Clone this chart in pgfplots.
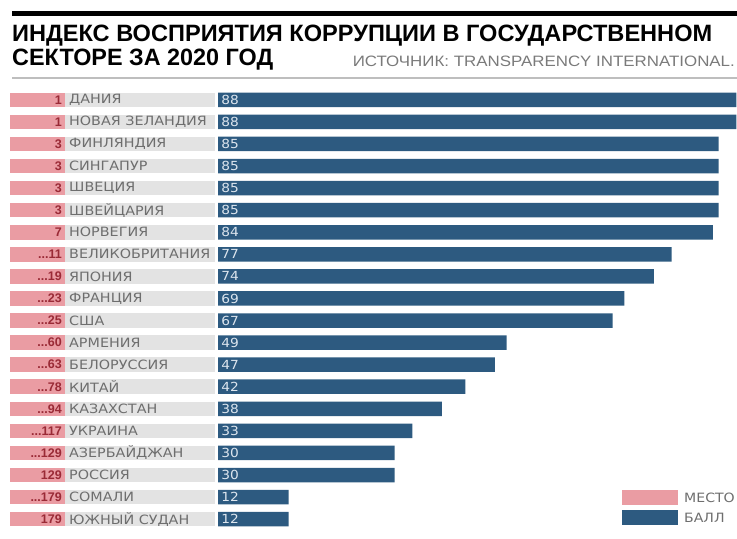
\documentclass[border=0pt]{standalone}
\usepackage{pgfplots}
\pgfplotsset{compat=1.18}
\usepackage{pgfplotstable}
\usepackage{graphicx}
\usepackage{fontspec}
\setmainfont{Liberation Sans}
\newfontfamily\dvs{DejaVu Sans}
\definecolor{barblue}{HTML}{2D5A80}
\definecolor{rankpink}{HTML}{EA9CA3}
\definecolor{bandgray}{HTML}{E3E3E3}
\definecolor{rankred}{HTML}{9A2A36}
\definecolor{namegray}{HTML}{6E6E6E}
\definecolor{vallabel}{HTML}{DCE5EE}
\definecolor{srcgray}{HTML}{7A7A7A}
\definecolor{rulegray}{HTML}{BEBEBE}

\pgfplotstableread[col sep=comma]{
idx,rank,country,val
0,1,ДАНИЯ,88
1,1,НОВАЯ ЗЕЛАНДИЯ,88
2,3,ФИНЛЯНДИЯ,85
3,3,СИНГАПУР,85
4,3,ШВЕЦИЯ,85
5,3,ШВЕЙЦАРИЯ,85
6,7,НОРВЕГИЯ,84
7,...11,ВЕЛИКОБРИТАНИЯ,77
8,...19,ЯПОНИЯ,74
9,...23,ФРАНЦИЯ,69
10,...25,США,67
11,...60,АРМЕНИЯ,49
12,...63,БЕЛОРУССИЯ,47
13,...78,КИТАЙ,42
14,...94,КАЗАХСТАН,38
15,...117,УКРАИНА,33
16,...129,АЗЕРБАЙДЖАН,30
17,129,РОССИЯ,30
18,...179,СОМАЛИ,12
19,179,ЮЖНЫЙ СУДАН,12
}\datatable

\begin{document}
\begin{tikzpicture}[x=1bp,y=1bp]
\useasboundingbox (0,0) rectangle (737,539);
% header
\fill[black] (12,523) rectangle (737,528);
\node[anchor=base west,inner sep=0pt] at (12,497.3)
  {\resizebox{700bp}{16.5bp}{\bfseries ИНДЕКС ВОСПРИЯТИЯ КОРРУПЦИИ В ГОСУДАРСТВЕННОМ}};
\node[anchor=base west,inner sep=0pt] at (12,473.5)
  {\resizebox{261bp}{16.5bp}{\bfseries СЕКТОРЕ ЗА 2020 ГОД}};
\node[anchor=base east,inner sep=0pt,text=srcgray] at (735,472)
  {\resizebox{382bp}{10.5bp}{ИСТОЧНИК: TRANSPARENCY INTERNATIONAL.}};
\fill[rulegray] (12,460) rectangle (737,462);

\begin{axis}[
  at={(10bp,8.8bp)}, anchor=south west,
  scale only axis, width=727bp, height=441.4bp,
  xmin=-35.314, xmax=88.115,
  ymin=-0.5, ymax=19.5, y dir=reverse,
  axis lines=none, ticks=none, clip=false,
]
\pgfplotsinvokeforeach{0,...,19}{
  \fill[rankpink] (axis cs:-35.314,#1-0.33) rectangle (axis cs:-25.9,#1+0.33);
  \fill[bandgray] (axis cs:-25.9,#1-0.33) rectangle (axis cs:-0.51,#1+0.33);
}
\addplot[xbar, bar width=14.5bp, fill=barblue, draw=none] table[x=val,y=idx] {\datatable};
% rank labels
\addplot[draw=none, mark=none, nodes near coords, point meta=explicit symbolic,
  nodes near coords align={anchor=east},
  every node near coord/.append style={inner sep=0pt, text=rankred,
    font=\fontsize{12.5bp}{13bp}\selectfont\bfseries}]
  table[x expr=-26.49, y=idx, meta=rank] {\datatable};
% country labels
\addplot[draw=none, mark=none, point meta=explicit symbolic,
  nodes near coords={\scalebox{1.12}[1]{\pgfplotspointmeta}},
  nodes near coords align={anchor=west},
  every node near coord/.append style={inner sep=0pt, text=namegray,
    font=\dvs\fontsize{12.8bp}{13bp}\selectfont}]
  table[x expr=-25.3, y=idx, meta=country] {\datatable};
% value labels
\addplot[draw=none, mark=none, point meta=explicit symbolic,
  nodes near coords={\scalebox{1.1}[1]{\pgfplotspointmeta}},
  nodes near coords align={anchor=west},
  every node near coord/.append style={inner sep=0pt, text=vallabel,
    font=\dvs\fontsize{12.5bp}{13bp}\selectfont}]
  table[x expr=0.55, y=idx, meta=val] {\datatable};
\end{axis}

% legend
\fill[rankpink] (622,34) rectangle (678,49);
\fill[barblue] (622,14) rectangle (678,29);
\node[anchor=west,inner sep=0pt,text=namegray,font=\dvs\fontsize{12.8bp}{13bp}\selectfont] at (684,41.5) {\scalebox{1.1}[1]{МЕСТО}};
\node[anchor=west,inner sep=0pt,text=namegray,font=\dvs\fontsize{12.8bp}{13bp}\selectfont] at (684,21.5) {\scalebox{1.1}[1]{БАЛЛ}};
\end{tikzpicture}
\end{document}
